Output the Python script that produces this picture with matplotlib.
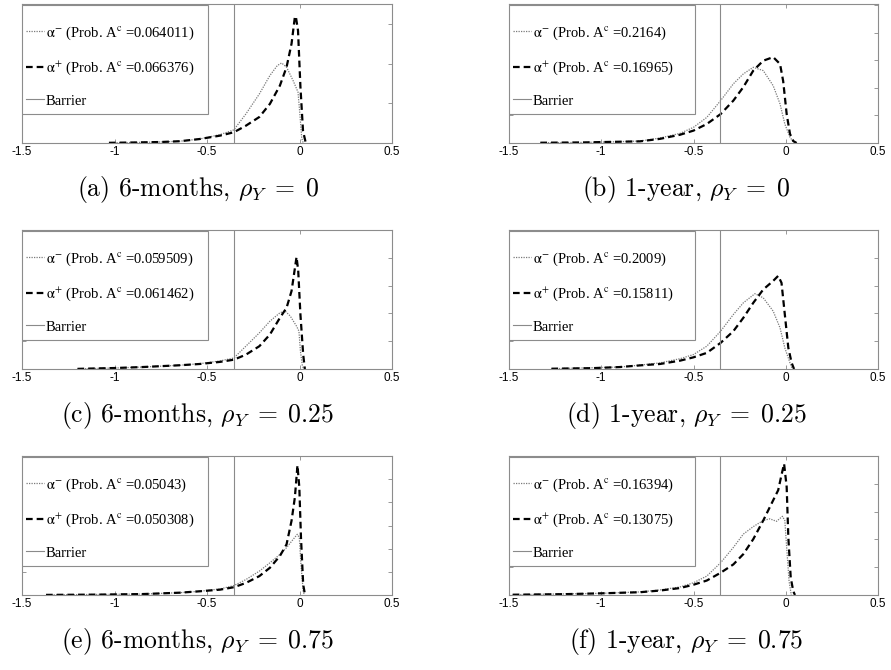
import matplotlib.pyplot as plt
from matplotlib.patches import Rectangle
import numpy as np

plt.rcParams['axes.unicode_minus'] = False
plt.rcParams['mathtext.fontset'] = 'stix'

W, H = 891, 670

# barrier level and axis ticks
barrier = -0.355
x_ticks = [-1.5, -1, -0.5, 0, 0.5]
x_tick_labels = ['-1.5', '-1', '-0.5', '0', '0.5']

panel_tags = ['a', 'b', 'c', 'd', 'e', 'f']
horizons = ['6-months', '1-year', '6-months', '1-year', '6-months', '1-year']
rho_values = ['0', '0', '0.25', '0.25', '0.75', '0.75']
prob_minus = ['0.064011', '0.2164', '0.059509', '0.2009', '0.05043', '0.16394']
prob_plus = ['0.066376', '0.16965', '0.061462', '0.15811', '0.050308', '0.13075']
y_top = [7, 5.05, 10, 5, 12, 5]
y_step = [2, 1, 2, 1, 2, 1]

# (a) 6-months, rho=0
a_minus_x = [-1.03, -0.9, -0.75, -0.646, -0.54, -0.43, -0.355, -0.29, -0.217, -0.16, -0.12, -0.097, -0.07, -0.034, -0.008, 0.002, 0.012, 0.02]
a_minus_y = [0.01, 0.025, 0.05, 0.09, 0.2, 0.42, 0.66, 1.46, 2.47, 3.40, 3.90, 4.03, 3.82, 3.13, 2.56, 1.46, 0.25, 0.0]
a_plus_x = [-1.03, -0.9, -0.75, -0.646, -0.54, -0.43, -0.355, -0.29, -0.217, -0.16, -0.106, -0.07, -0.043, -0.025, -0.02, -0.008, 0.005, 0.019, 0.034]
a_plus_y = [0.01, 0.025, 0.05, 0.09, 0.20, 0.37, 0.54, 0.87, 1.31, 1.97, 2.89, 3.82, 5.0, 6.35, 6.38, 5.66, 2.83, 0.61, 0.0]

# (b) 1-year, rho=0
b_minus_x = [-1.33, -1.1, -0.95, -0.79, -0.682, -0.573, -0.5, -0.428, -0.353, -0.284, -0.23, -0.176, -0.122, -0.068, -0.031, -0.005, 0.023, 0.045]
b_minus_y = [0.01, 0.02, 0.04, 0.07, 0.18, 0.35, 0.57, 0.93, 1.54, 2.15, 2.51, 2.75, 2.63, 2.08, 1.42, 0.69, 0.21, 0.0]
b_plus_x = [-1.33, -1.1, -0.95, -0.79, -0.682, -0.573, -0.5, -0.428, -0.353, -0.284, -0.23, -0.176, -0.122, -0.068, -0.031, -0.014, 0.005, 0.023, 0.041, 0.059]
b_plus_y = [0.01, 0.02, 0.04, 0.06, 0.15, 0.30, 0.45, 0.69, 1.05, 1.54, 2.03, 2.63, 2.99, 3.12, 2.87, 2.25, 1.05, 0.33, 0.07, 0.0]

# (c) 6-months, rho=0.25
c_minus_x = [-1.2, -1.0, -0.85, -0.646, -0.54, -0.43, -0.355, -0.29, -0.217, -0.16, -0.106, -0.078, -0.05, -0.016, -0.003, 0.005, 0.016, 0.025]
c_minus_y = [0.01, 0.07, 0.14, 0.27, 0.38, 0.58, 0.79, 1.64, 2.60, 3.44, 4.04, 4.17, 3.81, 3.08, 2.72, 1.28, 0.19, 0.0]
c_plus_x = [-1.2, -1.0, -0.85, -0.646, -0.54, -0.43, -0.355, -0.29, -0.217, -0.16, -0.106, -0.07, -0.043, -0.016, -0.007, 0.005, 0.02, 0.029]
c_plus_y = [0.01, 0.07, 0.14, 0.27, 0.36, 0.51, 0.67, 1.03, 1.64, 2.48, 3.68, 4.40, 5.61, 8.06, 7.08, 3.92, 1.03, 0.0]

# (d) 1-year, rho=0.25
d_minus_x = [-1.27, -0.9, -0.79, -0.682, -0.573, -0.5, -0.428, -0.353, -0.284, -0.23, -0.167, -0.122, -0.068, -0.031, -0.005, 0.023, 0.035]
d_minus_y = [0.01, 0.07, 0.14, 0.22, 0.37, 0.52, 0.82, 1.36, 1.96, 2.38, 2.71, 2.56, 2.08, 1.48, 0.76, 0.22, 0.0]
d_plus_x = [-1.27, -1.05, -0.9, -0.79, -0.682, -0.573, -0.5, -0.428, -0.353, -0.284, -0.23, -0.176, -0.122, -0.068, -0.041, -0.023, -0.005, 0.014, 0.032, 0.045]
d_plus_y = [0.01, 0.03, 0.07, 0.13, 0.18, 0.30, 0.42, 0.58, 0.94, 1.36, 1.84, 2.38, 2.86, 3.17, 3.35, 3.10, 1.96, 0.76, 0.22, 0.0]

# (e) 6-months, rho=0.75
e_minus_x = [-1.37, -0.85, -0.646, -0.54, -0.43, -0.355, -0.29, -0.217, -0.16, -0.106, -0.07, -0.034, -0.012, -0.001, 0.008, 0.02, 0.027]
e_minus_y = [0.01, 0.08, 0.20, 0.32, 0.52, 0.81, 1.33, 2.06, 2.78, 3.50, 4.09, 4.81, 5.24, 4.96, 2.61, 0.32, 0.0]
e_plus_x = [-1.37, -1.1, -0.85, -0.646, -0.54, -0.43, -0.355, -0.29, -0.217, -0.16, -0.106, -0.07, -0.043, -0.025, -0.011, -0.001, 0.008, 0.02, 0.03]
e_plus_y = [0.01, 0.03, 0.08, 0.20, 0.32, 0.46, 0.67, 1.04, 1.63, 2.35, 3.37, 4.37, 6.41, 8.43, 11.19, 9.30, 4.96, 0.90, 0.0]

# (f) 1-year, rho=0.75
f_minus_x = [-1.48, -1.0, -0.79, -0.682, -0.573, -0.5, -0.428, -0.353, -0.284, -0.23, -0.176, -0.122, -0.086, -0.05, -0.018, -0.005, 0.005, 0.018, 0.03]
f_minus_y = [0.01, 0.06, 0.11, 0.18, 0.29, 0.44, 0.68, 1.16, 1.71, 2.19, 2.46, 2.68, 2.74, 2.65, 2.83, 2.68, 1.71, 0.50, 0.0]
f_plus_x = [-1.48, -1.2, -1.0, -0.79, -0.682, -0.573, -0.5, -0.428, -0.353, -0.284, -0.23, -0.176, -0.122, -0.068, -0.041, -0.023, -0.009, 0.005, 0.014, 0.027, 0.041, 0.05]
f_plus_y = [0.01, 0.03, 0.06, 0.10, 0.16, 0.25, 0.37, 0.52, 0.80, 1.10, 1.47, 2.01, 2.68, 3.41, 3.77, 4.32, 4.72, 3.89, 2.07, 0.62, 0.13, 0.0]

minus_series = [(a_minus_x, a_minus_y), (b_minus_x, b_minus_y), (c_minus_x, c_minus_y),
                (d_minus_x, d_minus_y), (e_minus_x, e_minus_y), (f_minus_x, f_minus_y)]
plus_series = [(a_plus_x, a_plus_y), (b_plus_x, b_plus_y), (c_plus_x, c_plus_y),
               (d_plus_x, d_plus_y), (e_plus_x, e_plus_y), (f_plus_x, f_plus_y)]

fig = plt.figure(figsize=(W / 100, H / 100), dpi=100)

col_left = [22, 509]
col_width = [370, 369]
row_top = [4, 230, 456]
ax_height = 139
caption_x = [198, 686]
edge_grey = '#8c8c8c'

for i in range(6):
    row, col = divmod(i, 2)
    rect = [col_left[col] / W, 1 - (row_top[row] + ax_height) / H, col_width[col] / W, ax_height / H]
    ax = fig.add_axes(rect)

    mx, my = minus_series[i]
    px, py = plus_series[i]
    ax.plot(mx, my, color='#7a7a7a', lw=0.9, linestyle=(0, (1, 1)),
            label=r'$\mathrm{\alpha}^{-}$ (Prob. A$^{\mathrm{c}}$ =' + prob_minus[i] + ')')
    ax.plot(px, py, color='black', lw=1.6, linestyle=(0, (3, 1.8)),
            label=r'$\mathrm{\alpha}^{+}$ (Prob. A$^{\mathrm{c}}$ =' + prob_plus[i] + ')')
    ax.axvline(barrier, color='#8a8a8a', lw=0.8, label='Barrier')

    ax.set_xlim(-1.5, 0.5)
    ax.set_ylim(0, y_top[i])
    ax.set_xticks(x_ticks)
    ax.set_xticklabels(x_tick_labels, family='Liberation Sans', fontsize=8.5)
    ax.set_yticks(np.arange(y_step[i], y_top[i] - 0.01, y_step[i]))
    ax.set_yticklabels([])
    ax.tick_params(direction='in', length=3, width=0.6, color='#888888', top=True, right=True, pad=2.5)
    for sp in ax.spines.values():
        sp.set_color(edge_grey)
        sp.set_linewidth(0.8)

    # legend box (MATLAB style, fixed size)
    box_w = 186 / col_width[col]
    box_b = 29 / ax_height
    ax.add_patch(Rectangle((0, box_b), box_w, 0.99 - box_b, transform=ax.transAxes,
                           facecolor='white', edgecolor=edge_grey, lw=0.8, zorder=4))
    leg = ax.legend(loc='center left', bbox_to_anchor=(4 / col_width[col], 1 - 62 / ax_height),
                    prop={'family': 'Liberation Serif', 'size': 10.5}, handlelength=1.2,
                    handletextpad=0.15, labelspacing=1.2, borderpad=0.0, borderaxespad=0.0,
                    frameon=False)
    leg.set_zorder(5)

    caption = '(' + panel_tags[i] + ') ' + horizons[i] + r', $\rho_Y \;=\; ' + rho_values[i] + '$'
    fig.text(caption_x[col] / W, 1 - (row_top[row] + 192) / H, caption, ha='center', va='baseline',
             fontsize=18.5, family='cmr10', math_fontfamily='cm')

fig.savefig('out.png', dpi=100)
